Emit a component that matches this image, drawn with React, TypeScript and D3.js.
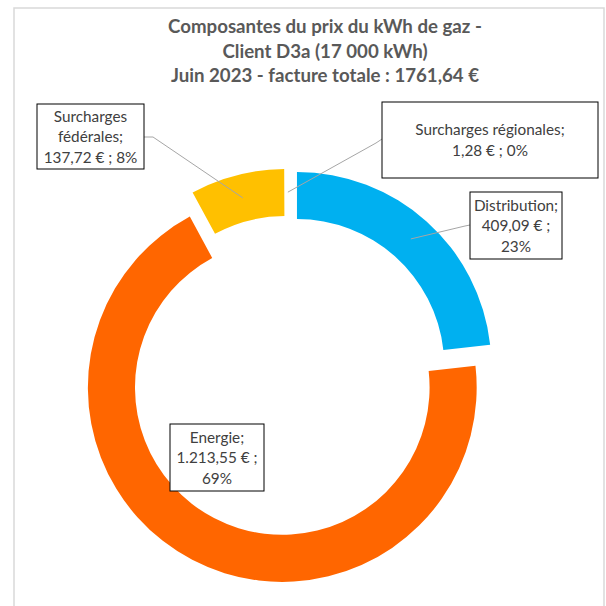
import React from "react";
import * as d3 from "d3";

// ---- data ----
const categories = ["Distribution", "Energie", "Surcharges fédérales", "Surcharges régionales"];
const values = [409.09, 1213.55, 137.72, 1.28];
const colors = ["#00B0F0", "#FF6600", "#FFC000", "#FFFFFF"];
const titleLines = [
  "Composantes du prix du kWh de gaz -",
  "Client D3a (17 000 kWh)",
  "Juin 2023 - facture totale : 1761,64 €",
];

// ---- layout ----
const W = 606;
const H = 606;
const CX = 288.3;
const CY = 376;
const R_OUT = 194.4;
const R_IN = 147.3;
const EXPLODE = 13;
const FONT = "Lato, 'Open Sans', sans-serif";
const LABEL_SIZE = 15.3;
const LINE_H = 20.5;

const labelBoxes = [
  { x: 470, y: 192, w: 92, h: 67, wrapW: 86, anchor: [470, 225], elbow: [465, 226] },
  { x: 170, y: 424, w: 94, h: 67, wrapW: 90, anchor: null, elbow: null },
  { x: 37, y: 104, w: 107, h: 65, wrapW: 100, anchor: [144, 137], elbow: [153, 137] },
  { x: 382, y: 102, w: 216, h: 76, wrapW: 170, anchor: [382, 139], elbow: [376, 143] },
];

const locale = d3.formatLocale({ decimal: ",", thousands: ".", grouping: [3], currency: ["", " €"] });
const fmtVal = locale.format(",.2f");

let ctx: CanvasRenderingContext2D | null = null;
function measure(t: string): number {
  if (!ctx) ctx = document.createElement("canvas").getContext("2d");
  if (!ctx) return t.length * 7;
  ctx.font = `${LABEL_SIZE}px ${FONT}`;
  return ctx.measureText(t).width;
}

function wrap(text: string, maxW: number): string[] {
  const words = text.split(" ");
  const lines: string[] = [];
  let cur = "";
  for (const w of words) {
    const test = cur ? cur + " " + w : w;
    if (cur && measure(test) > maxW) {
      lines.push(cur);
      cur = w;
    } else cur = test;
  }
  if (cur) lines.push(cur);
  return lines;
}

export default function App() {
  const total = d3.sum(values);
  const pie = d3.pie<number>().sort(null).startAngle(0).endAngle(2 * Math.PI)(values);
  const arc = d3.arc<d3.PieArcDatum<number>>().innerRadius(R_IN).outerRadius(R_OUT);

  const slices = pie.map((p, i) => {
    const mid = (p.startAngle + p.endAngle) / 2;
    const dx = EXPLODE * Math.sin(mid);
    const dy = -EXPLODE * Math.cos(mid);
    const c = arc.centroid(p);
    return { p, i, dx, dy, cx: CX + dx + c[0], cy: CY + dy + c[1] };
  });

  return (
    <svg
      width={W}
      height={H}
      style={{ position: "absolute", left: 0, top: 0, background: "#fff" }}
      xmlns="http://www.w3.org/2000/svg"
    >
      <rect x={0} y={0} width={W} height={H} fill="#fff" />
      <rect x={14} y={8} width={590} height={620} fill="none" stroke="#d9d9d9" strokeWidth={1.5} />
      <g fontFamily={FONT} fontWeight="bold" fontSize={18.67} fill="#595959" textAnchor="middle">
        {titleLines.map((t, i) => (
          <text key={i} x={325} y={33 + i * 24.5}>
            {t}
          </text>
        ))}
      </g>
      <g>
        {slices.map((s) => (
          <path
            key={s.i}
            d={arc(s.p) || ""}
            transform={`translate(${CX + s.dx},${CY + s.dy})`}
            fill={colors[s.i]}
          />
        ))}
      </g>
      <g fill="none" stroke="#a6a6a6" strokeWidth={1}>
        {slices.map((s) => {
          const b = labelBoxes[s.i];
          if (!b.anchor || !b.elbow) return null;
          const pts = [b.anchor, b.elbow, [s.cx, s.cy]];
          return <path key={s.i} d={d3.line()(pts as [number, number][]) || ""} />;
        })}
      </g>
      <g fontFamily={FONT} fontSize={LABEL_SIZE} fill="#404040" textAnchor="middle">
        {slices.map((s) => {
          const b = labelBoxes[s.i];
          const pct = Math.round((values[s.i] / total) * 100);
          const txt = `${categories[s.i]}; ${fmtVal(values[s.i])} € ; ${pct}%`;
          const lines = wrap(txt, b.wrapW);
          const mid = b.y + b.h / 2 + 5.5;
          return (
            <g key={s.i}>
              <rect x={b.x} y={b.y} width={b.w} height={b.h} fill="#fff" stroke="#000" strokeWidth={1} />
              {lines.map((l, k) => (
                <text key={k} x={b.x + b.w / 2} y={mid + (k - (lines.length - 1) / 2) * LINE_H}>
                  {l}
                </text>
              ))}
            </g>
          );
        })}
      </g>
    </svg>
  );
}
